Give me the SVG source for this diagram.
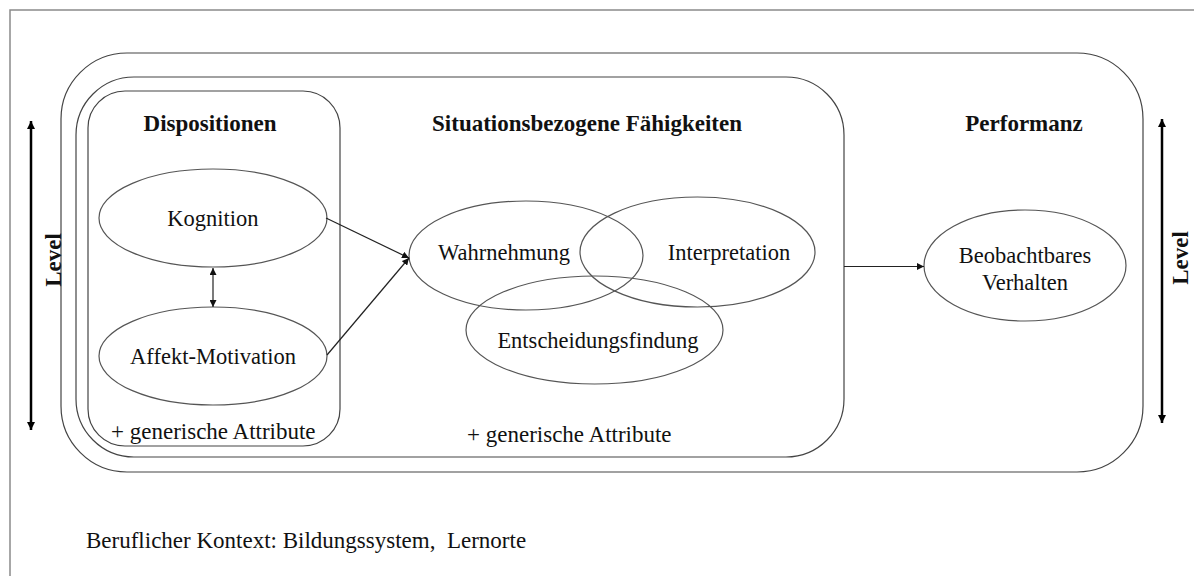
<svg xmlns="http://www.w3.org/2000/svg" width="1194" height="576" viewBox="0 0 1194 576">
  <style>
    .frame { fill: none; stroke: #8a8a8a; stroke-width: 1.5; }
    .box { fill: none; stroke: #444; stroke-width: 1.2; }
    .node { fill: none; stroke: #555; stroke-width: 1.2; }
    text { font-family: 'Liberation Serif', 'DejaVu Serif', serif; fill: #111; }
    .lbl { font-size: 22.5px; text-anchor: middle; }
    .head { font-size: 23px; font-weight: bold; text-anchor: middle; }
    .note { font-size: 23px; }
    .link { fill: none; stroke: #222; stroke-width: 1.2; }
    .level { fill: none; stroke: #000; stroke-width: 2.5; }
  </style>
  <defs>
    <marker id="arrow" viewBox="0 0 10 10" refX="10" refY="5" markerWidth="7" markerHeight="7" markerUnits="userSpaceOnUse" orient="auto-start-reverse">
      <path d="M0,0 L10,5 L0,10 Z" fill="#111"/>
    </marker>
    <marker id="arrowBig" viewBox="0 0 10 10" refX="10" refY="5" markerWidth="8" markerHeight="8" markerUnits="userSpaceOnUse" orient="auto-start-reverse">
      <path d="M0,0 L10,5 L0,10 Z" fill="#000"/>
    </marker>
  </defs>

  <rect width="1194" height="576" fill="#fff"/>
  <!-- outer frame -->
  <rect class="frame" x="10" y="10" width="1200" height="600"/>

  <!-- nested containers -->
  <g id="performanz">
    <rect class="box" x="61" y="53" width="1082" height="419" rx="66" ry="66"/>
    <text class="head" x="1024" y="131">Performanz</text>
  </g>
  <g id="situation">
    <rect class="box" x="76" y="77" width="768" height="380" rx="58" ry="58"/>
    <text class="head" x="587" y="131">Situationsbezogene Fähigkeiten</text>
    <text class="note" x="467" y="442">+ generische Attribute</text>
  </g>
  <g id="dispositionen">
    <rect class="box" x="88" y="91" width="252" height="355" rx="37" ry="37"/>
    <text class="head" x="210" y="131">Dispositionen</text>
    <text class="note" x="111" y="439">+ generische Attribute</text>
  </g>

  <!-- nodes -->
  <g id="kognition">
    <ellipse class="node" cx="213" cy="218" rx="114" ry="49"/>
    <text class="lbl" x="213" y="226">Kognition</text>
  </g>
  <g id="affekt">
    <ellipse class="node" cx="213" cy="356" rx="114" ry="49"/>
    <text class="lbl" x="213" y="364">Affekt-Motivation</text>
  </g>
  <g id="wahrnehmung">
    <ellipse class="node" cx="526" cy="255.5" rx="117" ry="54.5"/>
    <text class="lbl" x="504" y="260">Wahrnehmung</text>
  </g>
  <g id="interpretation">
    <ellipse class="node" cx="697.5" cy="252" rx="117.5" ry="55"/>
    <text class="lbl" x="729" y="260">Interpretation</text>
  </g>
  <g id="entscheidung">
    <ellipse class="node" cx="594.5" cy="330" rx="128.5" ry="54"/>
    <text class="lbl" x="598" y="348">Entscheidungsfindung</text>
  </g>
  <g id="verhalten">
    <ellipse class="node" cx="1025" cy="265.5" rx="101" ry="55.5"/>
    <text class="lbl" x="1025" y="263">Beobachtbares</text>
    <text class="lbl" x="1025" y="290">Verhalten</text>
  </g>

  <!-- connectors -->
  <g id="connectors">
    <line class="link" x1="213" y1="268" x2="213" y2="307" marker-start="url(#arrow)" marker-end="url(#arrow)"/>
    <line class="link" x1="326" y1="218" x2="409" y2="258" marker-end="url(#arrow)"/>
    <line class="link" x1="327" y1="355" x2="409" y2="258" marker-end="url(#arrow)"/>
    <line class="link" x1="844" y1="266.5" x2="924" y2="266.5" marker-end="url(#arrow)"/>
    <line class="level" x1="31" y1="121" x2="31" y2="430" marker-start="url(#arrowBig)" marker-end="url(#arrowBig)"/>
    <line class="level" x1="1162" y1="119" x2="1162" y2="423" marker-start="url(#arrowBig)" marker-end="url(#arrowBig)"/>
  </g>

  <!-- level labels -->
  <text class="head" transform="translate(61,260) rotate(-90)">Level</text>
  <text class="head" transform="translate(1188,258) rotate(-90)">Level</text>

  <!-- context note -->
  <text class="note" x="86" y="548" xml:space="preserve">Beruflicher Kontext: Bildungssystem,  Lernorte</text>
</svg>
